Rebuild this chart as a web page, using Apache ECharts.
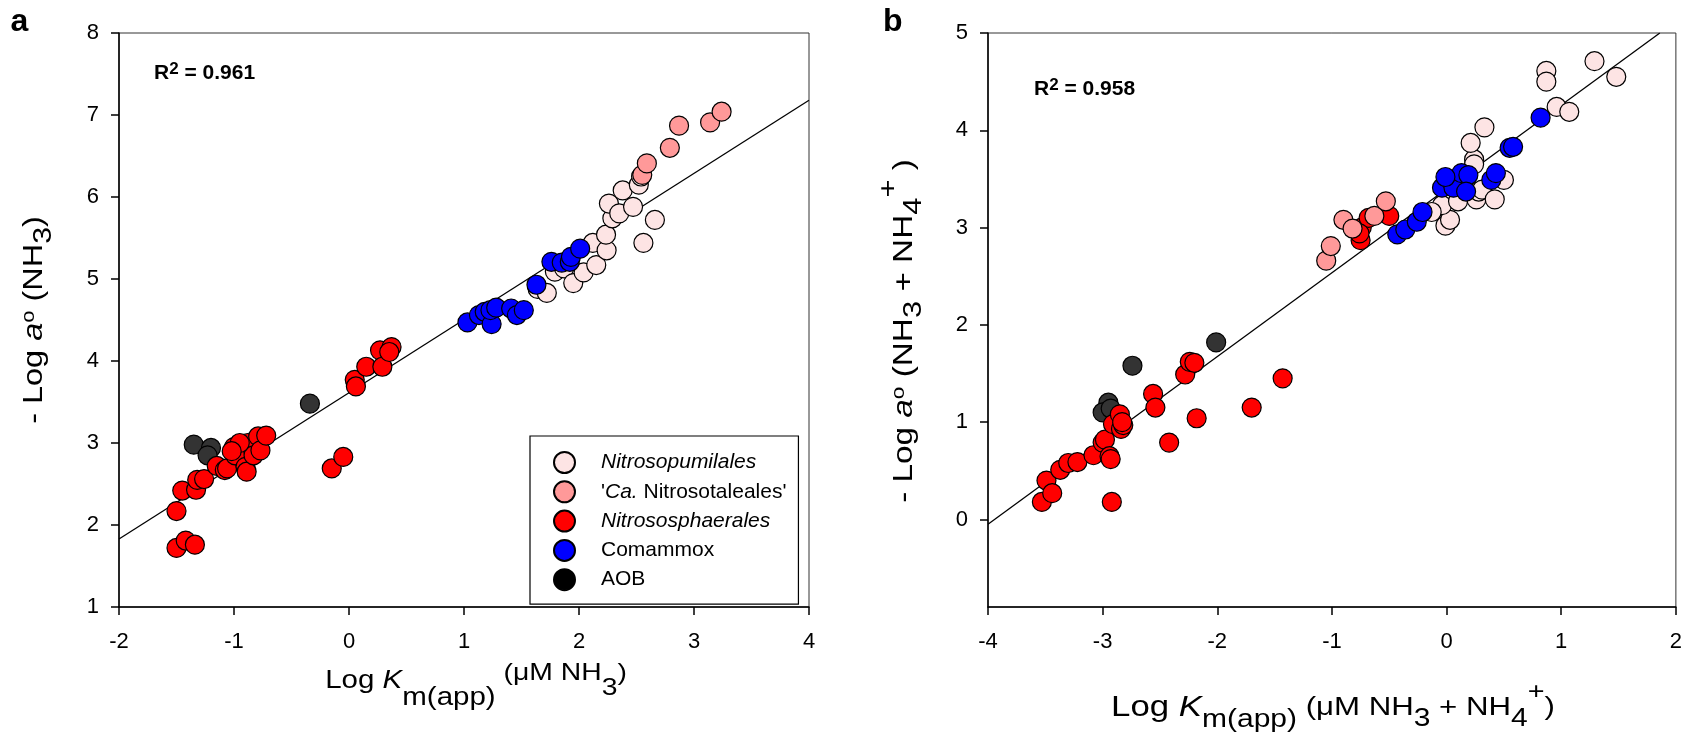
<!DOCTYPE html>
<html>
<head>
<meta charset="utf-8">
<script src="https://cdn.jsdelivr.net/npm/echarts@6.0.0/dist/echarts.min.js"></script>
<style>
  html, body { margin: 0; padding: 0; background: #fff; }
  #chart { width: 1685px; height: 732px; }
</style>
</head>
<body>
<div id="chart"></div>
<script>
const FONT = 'Liberation Sans'

// panel a: x = log Km(app) (uM NH3), y = -log a (NH3)
const aNitrosopumilales = [
  [1.64, 4.88], [1.72, 4.83], [1.79, 5.09], [1.87, 5.13], [1.95, 4.95], [2.04, 5.08],
  [2.12, 5.44], [2.15, 5.17], [2.24, 5.35], [2.235, 5.54], [2.29, 5.74], [2.26, 5.92],
  [2.35, 5.80], [2.38, 6.08], [2.47, 5.88], [2.52, 6.15], [2.54, 6.25], [2.56, 5.44], [2.66, 5.72]
]
const aNitrosotaleales = [[2.55, 6.27], [2.59, 6.41], [2.79, 6.60], [2.87, 6.87], [3.14, 6.91], [3.24, 7.04]]
const aNitrososphaerales = [
  [-1.50, 2.17], [-1.45, 2.42], [-1.33, 2.43], [-1.32, 2.55], [-1.26, 2.56], [-1.50, 1.72],
  [-1.42, 1.81], [-1.34, 1.76], [-1.15, 2.72], [-1.08, 2.67], [-1.06, 2.69], [-1.00, 2.95],
  [-0.99, 2.85], [-0.90, 2.71], [-0.89, 2.65], [-0.88, 3.00], [-0.83, 2.85], [-0.79, 3.08],
  [-0.77, 2.91], [-0.72, 3.09], [-0.95, 3.00], [-1.02, 2.90], [-0.15, 2.69], [-0.05, 2.83],
  [0.05, 3.77], [0.06, 3.69], [0.15, 3.93], [0.27, 4.13], [0.29, 3.93], [0.37, 4.17], [0.35, 4.11]
]
const aComammox = [
  [1.03, 4.47], [1.13, 4.56], [1.18, 4.60], [1.24, 4.45], [1.23, 4.62], [1.28, 4.65], [1.41, 4.64],
  [1.46, 4.56], [1.52, 4.62], [1.63, 4.93], [1.76, 5.21], [1.85, 5.20], [1.92, 5.21], [1.93, 5.27], [2.01, 5.37]
]
const aAOB = [[-1.35, 2.98], [-1.20, 2.94], [-1.23, 2.85], [-0.34, 3.48]]
const aFit = [[-2, 1.83], [4, 7.18]]

// panel b: x = log Km(app) (uM NH3 + NH4+), y = -log a (NH3 + NH4+)
const bNitrosopumilales = [
  [-0.01, 3.02], [0.03, 3.08], [-0.04, 3.23], [0.10, 3.27], [-0.13, 3.16], [0.26, 3.29], [0.28, 3.37],
  [0.31, 3.39], [0.42, 3.29], [0.50, 3.49], [0.24, 3.70], [0.24, 3.65], [0.21, 3.87], [0.33, 4.03],
  [0.87, 4.61], [0.87, 4.50], [0.96, 4.24], [1.07, 4.19], [1.29, 4.71], [1.48, 4.55]
]
const bNitrosotaleales = [[-1.05, 2.66], [-1.01, 2.81], [-0.90, 3.08], [-0.82, 2.99], [-0.63, 3.12], [-0.53, 3.27]]
const bNitrososphaerales = [
  [-3.53, 0.18], [-3.49, 0.40], [-3.44, 0.27], [-3.37, 0.51], [-3.30, 0.58], [-3.22, 0.59],
  [-3.08, 0.66], [-3.00, 0.79], [-2.98, 0.82], [-2.94, 0.65], [-2.93, 0.62], [-2.92, 0.18],
  [-2.91, 0.98], [-2.85, 1.08], [-2.84, 0.93], [-2.82, 0.97], [-2.83, 1.00], [-2.56, 1.29],
  [-2.54, 1.15], [-2.42, 0.79], [-2.28, 1.49], [-2.24, 1.62], [-2.20, 1.61], [-2.18, 1.04],
  [-1.70, 1.15], [-1.43, 1.45], [-0.75, 2.87], [-0.74, 3.00], [-0.68, 3.10], [-0.50, 3.12], [-0.76, 2.94]
]
const bComammox = [
  [-0.43, 2.93], [-0.36, 2.98], [-0.26, 3.06], [-0.21, 3.16], [-0.04, 3.41], [0.03, 3.49],
  [0.06, 3.41], [0.13, 3.56], [0.19, 3.54], [0.17, 3.37], [0.39, 3.49], [0.43, 3.56],
  [0.55, 3.82], [0.58, 3.83], [0.82, 4.13], [-0.01, 3.52]
]
const bAOB = [[-2.74, 1.58], [-2.01, 1.82], [-2.95, 1.20], [-3.00, 1.10], [-2.93, 1.14]]
const bFit = [[-4, -0.05], [1.86, 5.0]]

const bYTicks = [0, 1, 2, 3, 4, 5]

const colors = {
  'Nitrosopumilales': '#fde4e4',
  "'Ca. Nitrosotaleales'": '#ff9999',
  'Nitrososphaerales': '#ff0000',
  'Comammox': '#0000ff',
  'AOB': '#333333'
}

const chart = echarts.init(document.getElementById('chart'))

const scatter = (name, data, idx) => ({
  name,
  type: 'scatter',
  xAxisIndex: idx,
  yAxisIndex: idx,
  data,
  symbolSize: 19,
  z: 3,
  itemStyle: { color: colors[name], borderColor: '#000', borderWidth: 1.2, opacity: 1 },
  emphasis: { disabled: true }
})

const fitLine = (name, data, idx) => ({
  name,
  type: 'line',
  xAxisIndex: idx,
  yAxisIndex: idx,
  data,
  symbol: 'none',
  z: 2,
  lineStyle: { color: '#000', width: 1.3 },
  emphasis: { disabled: true }
})

const axisBase = {
  type: 'value',
  axisLine: { onZero: false, lineStyle: { color: '#000', width: 1.5 } },
  axisTick: { length: 8, lineStyle: { color: '#000', width: 1.5 } },
  splitLine: { show: false },
  axisLabel: { fontSize: 22, color: '#000', fontFamily: FONT }
}

const xAxis = (idx, min, max) => ({
  ...axisBase,
  gridIndex: idx, min, max, interval: 1,
  axisLabel: { ...axisBase.axisLabel, margin: 24 }
})

// rich text token, shift > 0 moves the token down (subscript), < 0 up
const tok = (size, shift = 0, extra = {}) => ({
  fontSize: size,
  fontFamily: FONT,
  fill: '#000',
  padding: shift > 0 ? [2 * shift, 0, 0, 0] : shift < 0 ? [0, 0, -2 * shift, 0] : 0,
  ...extra
})
const it = { fontStyle: 'italic' }
const bold = { fontWeight: 'bold' }

const label = (x, y, text, rich, more = {}) => ({
  type: 'text', x, y, silent: true, ...more,
  style: { text, rich, align: 'center', verticalAlign: 'middle', fill: '#000', fontFamily: FONT }
})

const legendNames = {
  'Nitrosopumilales': '{sp| }{i|Nitrosopumilales}',
  "'Ca. Nitrosotaleales'": "{sp| }{n|'}{i|Ca.}{n| Nitrosotaleales'}",
  'Nitrososphaerales': '{sp| }{i|Nitrososphaerales}',
  'Comammox': '{sp| }{n|Comammox}',
  'AOB': '{sp| }{n|AOB}'
}

const option = {
  animation: false,
  textStyle: { fontFamily: FONT },
  grid: [
    { left: 119, top: 33, width: 690, height: 574, show: true, borderColor: '#333', borderWidth: 1 },
    { left: 988, top: 33, width: 690, height: 574, show: true, borderColor: '#333', borderWidth: 1 }
  ],
  xAxis: [xAxis(0, -2, 4), xAxis(1, -4, 2)],
  yAxis: [
    { ...axisBase, gridIndex: 0, min: 1, max: 8, interval: 1, axisLabel: { ...axisBase.axisLabel, margin: 20 } },
    {
      ...axisBase, gridIndex: 1, min: -0.9, max: 5,
      axisTick: { ...axisBase.axisTick, customValues: bYTicks },
      axisLabel: { ...axisBase.axisLabel, margin: 20, customValues: bYTicks }
    }
  ],
  legend: {
    left: 530,
    top: 436,
    orient: 'vertical',
    padding: [15, 12, 13, 23],
    itemGap: 6.3,
    itemWidth: 21,
    itemHeight: 21,
    icon: 'circle',
    borderColor: '#000',
    borderWidth: 1.2,
    selectedMode: false,
    data: ['Nitrosopumilales', "'Ca. Nitrosotaleales'", 'Nitrososphaerales', 'Comammox',
      { name: 'AOB', itemStyle: { color: '#000' } }],
    formatter: name => legendNames[name],
    textStyle: {
      fontSize: 21,
      lineHeight: 21,
      color: '#000',
      rich: {
        sp: { width: 21, fontSize: 21, lineHeight: 21 },
        n: { fontSize: 21, lineHeight: 21, color: '#000', fontFamily: FONT },
        i: { fontSize: 21, lineHeight: 21, color: '#000', fontFamily: FONT, fontStyle: 'italic' }
      }
    }
  },
  graphic: [
    { type: 'text', x: 10.5, y: 22, silent: true, style: { text: 'a', fontSize: 32, fontWeight: 'bold', fontFamily: FONT, fill: '#000', verticalAlign: 'middle' } },
    { type: 'text', x: 883, y: 22, silent: true, style: { text: 'b', fontSize: 32, fontWeight: 'bold', fontFamily: FONT, fill: '#000', verticalAlign: 'middle' } },
    {
      type: 'text', x: 154, y: 73.6, silent: true,
      style: {
        text: '{r|R}{s|2}{r| = 0.961}', verticalAlign: 'middle', fill: '#000', fontFamily: FONT,
        rich: { r: tok(21, 0, bold), s: tok(17, -4.6, bold) }
      }
    },
    {
      type: 'text', x: 1034, y: 89.6, silent: true,
      style: {
        text: '{r|R}{s|2}{r| = 0.958}', verticalAlign: 'middle', fill: '#000', fontFamily: FONT,
        rich: { r: tok(21, 0, bold), s: tok(17, -4.6, bold) }
      }
    },
    // x axis titles
    label(476, 681, '{n|Log }{i|K}{s1|m(app)}{p| (μM NH}{s2|3}{p|)}', {
      n: tok(25), i: tok(25, 0, it), s1: tok(25, 17), p: tok(24, -8), s2: tok(24, 7)
    }, { scaleX: 1.18 }),
    label(1333, 708, '{n|Log }{i|K}{s1|m(app)}{p| (μM NH}{s2|3}{p| + NH}{s2|4}{sp|+}{p|)}', {
      n: tok(29), i: tok(29, 0, it), s1: tok(25, 12), p: tok(26), s2: tok(25, 11), sp: tok(24, -16)
    }, { scaleX: 1.2 }),
    // y axis titles
    label(34, 320, '{n|- Log }{i|a}{sup|o}{n| (NH}{sub|3}{n|)}', {
      n: tok(28), i: tok(28, 0, it), sup: tok(19, -5), sub: tok(26, 10)
    }, { scaleX: 1.16, rotation: Math.PI / 2 }),
    label(904, 331, '{n|- Log }{i|a}{sup|o}{n| (NH}{sub|3}{n| + NH}{sub|4}{sp|+}{n| )}', {
      n: tok(28), i: tok(28, 0, it), sup: tok(19, -5), sub: tok(26, 10), sp: tok(26, -15)
    }, { scaleX: 1.19, rotation: Math.PI / 2 })
  ],
  series: [
    fitLine('fit a', aFit, 0),
    scatter('AOB', aAOB, 0),
    scatter('Nitrososphaerales', aNitrososphaerales, 0),
    scatter('Nitrosopumilales', aNitrosopumilales, 0),
    scatter("'Ca. Nitrosotaleales'", aNitrosotaleales, 0),
    scatter('Comammox', aComammox, 0),
    fitLine('fit b', bFit, 1),
    scatter('AOB', bAOB, 1),
    scatter('Nitrososphaerales', bNitrososphaerales, 1),
    scatter('Nitrosopumilales', bNitrosopumilales, 1),
    scatter("'Ca. Nitrosotaleales'", bNitrosotaleales, 1),
    scatter('Comammox', bComammox, 1)
  ]
}

chart.setOption(option)
</script>
</body>
</html>
